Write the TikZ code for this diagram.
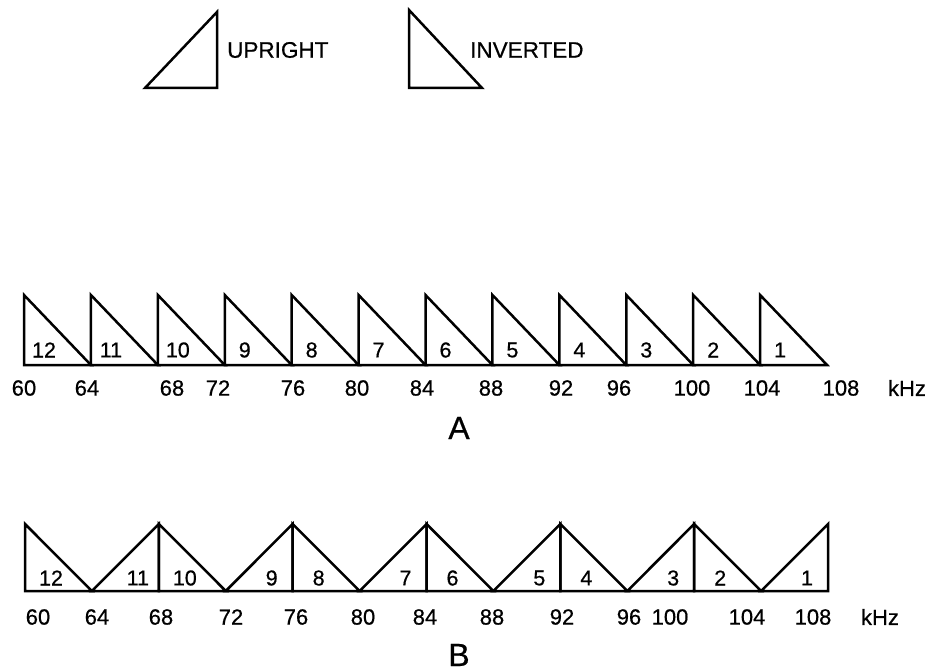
\documentclass[tikz,border=0pt]{standalone}
\usepackage{fontspec}
\setmainfont[FakeBold=0.6]{Liberation Sans}
\begin{document}
\begin{tikzpicture}[x=1pt,y=-1pt,
  tri/.style={draw=black,line width=2.5pt,line join=miter},
  num/.style={font=\fontsize{21.5}{21.5}\selectfont,inner sep=0pt,anchor=center},
  freq/.style={font=\fontsize{22}{22}\selectfont,inner sep=0pt,anchor=center},
  leg/.style={font=\fontsize{22.5}{22.5}\selectfont,inner sep=0pt,anchor=west},
  big/.style={font=\fontsize{32}{32}\selectfont,inner sep=0pt,anchor=center}]
\useasboundingbox (0,0) rectangle (934,671);
% legend
\draw[tri] (145,88) -- (217,12) -- (217,88) -- cycle;
\node[leg] (up) at (227,50) {UPRIGHT};
\draw[tri] (409,10) -- (409,88) -- (482,88) -- cycle;
\node[leg] (inv) at (470,50) {INVERTED};
% row A
\def\s{66.92}
\foreach \i [evaluate=\i as \x using 24+\i*66.92, evaluate=\i as \n using int(12-\i)] in {0,...,11}{
  \draw[tri] (\x,295) -- (\x,365) -- (\x+\s,365) -- cycle;
  \node[num] (a\n) at (\x+20,350) {\n};
}
\foreach \f/\x in {60/24,64/87,68/172,72/218,76/293,80/357,84/422,88/491,92/561,96/619,100/692,104/762,108/841}{
  \node[freq] (fa\f) at (\x,388) {\f};
}
\node[freq] (khza) at (907,388) {kHz};
\node[big] (A) at (459,428) {A};
% row B: inverted channels
\foreach \i [evaluate=\i as \x using 25+\i*66.92, evaluate=\i as \n using int(12-\i)] in {0,2,4,6,8,10}{
  \draw[tri] (\x,524) -- (\x,591) -- (\x+\s,591) -- cycle;
  \node[num] (b\n) at (\x+26,578) {\n};
}
% row B: upright channels
\foreach \i [evaluate=\i as \x using 25+\i*66.92, evaluate=\i as \n using int(12-\i)] in {1,3,5,7,9,11}{
  \draw[tri] (\x,591) -- (\x+\s,524) -- (\x+\s,591) -- cycle;
  \node[num] (b\n) at (\x+\s-21,578) {\n};
}
\foreach \f/\x in {60/38,64/97,68/161,72/231,76/296,80/363,84/425,88/492,92/562,96/629,100/670,104/747,108/813}{
  \node[freq] (fb\f) at (\x,617) {\f};
}
\node[freq] (khzb) at (880,617) {kHz};
\node[big] (B) at (459,655) {B};
\end{tikzpicture}
\end{document}
